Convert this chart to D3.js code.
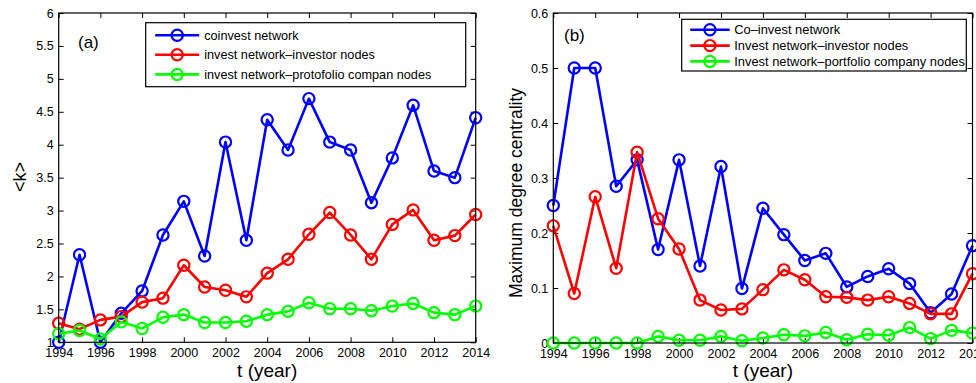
<!DOCTYPE html>
<html>
<head>
<meta charset="utf-8">
<script src="https://cdn.jsdelivr.net/npm/d3@7/dist/d3.min.js"></script>
<style>
  html, body { margin: 0; padding: 0; background: #fff; }
  svg { display: block; font-family: "Liberation Sans", Arial, Helvetica, sans-serif; }
</style>
</head>
<body>
<svg id="chart" width="976" height="383"></svg>
<script>
// Years shared by both panels
const years = d3.range(1994, 2015);

// Panel (a): average degree <k>
const coinvestK = [1.00, 2.33, 1.00, 1.44, 1.78, 2.63, 3.14, 2.31, 4.04, 2.55, 4.38, 3.92, 4.70, 4.04, 3.92, 3.12, 3.80, 4.60, 3.60, 3.50, 4.41];
const investorK = [1.29, 1.20, 1.34, 1.39, 1.61, 1.67, 2.17, 1.84, 1.79, 1.69, 2.05, 2.26, 2.64, 2.97, 2.63, 2.26, 2.79, 3.01, 2.55, 2.62, 2.94];
const portfolioK = [1.13, 1.18, 1.05, 1.31, 1.21, 1.38, 1.42, 1.30, 1.30, 1.32, 1.42, 1.47, 1.60, 1.51, 1.51, 1.48, 1.55, 1.59, 1.45, 1.42, 1.55];

// Panel (b): maximum degree centrality
const coinvestC = [0.250, 0.500, 0.500, 0.285, 0.333, 0.170, 0.333, 0.140, 0.321, 0.099, 0.245, 0.197, 0.150, 0.163, 0.102, 0.121, 0.135, 0.108, 0.055, 0.089, 0.177];
const investorC = [0.213, 0.090, 0.266, 0.136, 0.347, 0.226, 0.171, 0.078, 0.060, 0.062, 0.097, 0.133, 0.115, 0.084, 0.083, 0.078, 0.084, 0.072, 0.053, 0.053, 0.126];
const portfolioC = [0.000, 0.000, 0.000, 0.000, 0.000, 0.012, 0.005, 0.005, 0.012, 0.004, 0.009, 0.015, 0.013, 0.019, 0.006, 0.016, 0.014, 0.028, 0.008, 0.023, 0.018];

// Tick values and labels
const xTicks = d3.range(1994, 2015, 2);
const yTicksA = d3.range(1, 6.01, 0.5);
const yTicksB = [0, 0.1, 0.2, 0.3, 0.4, 0.5, 0.6];

const legendA = ["coinvest network", "invest network\u2013investor nodes", "invest network\u2013protofolio compan nodes"];
const legendB = ["Co\u2013invest network", "Invest network\u2013investor nodes", "Invest network\u2013portfolio company nodes"];
const colors = ["#0000ff", "#ff0000", "#00ff00"];

const svg = d3.select("#chart");

function drawPanel(cfg) {
  const x = d3.scaleLinear().domain([1994, 2014]).range([cfg.left, cfg.right]);
  const y = d3.scaleLinear().domain(cfg.yDomain).range([cfg.bottom, cfg.top]);
  const g = svg.append("g");
  const tickLen = 5;

  // Bottom axis with labels, ticks pointing inward
  g.append("g")
    .attr("transform", `translate(0,${cfg.bottom})`)
    .call(d3.axisBottom(x).tickValues(xTicks).tickFormat(d3.format("d")).tickSize(-tickLen).tickPadding(6))
    .call(a => a.select(".domain").remove())
    .call(a => a.selectAll("line").attr("stroke", "#000"))
    .call(a => a.selectAll("text").attr("font-size", 12.5).attr("fill", "#000"));
  // Top ticks
  g.append("g")
    .attr("transform", `translate(0,${cfg.top})`)
    .call(d3.axisTop(x).tickValues(xTicks).tickSize(-tickLen).tickFormat(""))
    .call(a => a.select(".domain").remove())
    .call(a => a.selectAll("line").attr("stroke", "#000"));
  // Left axis with labels
  g.append("g")
    .attr("transform", `translate(${cfg.left},0)`)
    .call(d3.axisLeft(y).tickValues(cfg.yTicks).tickFormat(cfg.yFormat).tickSize(-tickLen).tickPadding(5))
    .call(a => a.select(".domain").remove())
    .call(a => a.selectAll("line").attr("stroke", "#000"))
    .call(a => a.selectAll("text").attr("font-size", 12.5).attr("fill", "#000"));
  // Right ticks
  g.append("g")
    .attr("transform", `translate(${cfg.right},0)`)
    .call(d3.axisRight(y).tickValues(cfg.yTicks).tickSize(-tickLen).tickFormat(""))
    .call(a => a.select(".domain").remove())
    .call(a => a.selectAll("line").attr("stroke", "#000"));

  // Series lines and circle markers
  const line = d3.line().x((d, i) => x(years[i])).y(d => y(d));
  cfg.series.forEach((vals, s) => {
    g.append("path")
      .attr("d", line(vals))
      .attr("fill", "none")
      .attr("stroke", colors[s])
      .attr("stroke-width", 2.6)
      .attr("stroke-linejoin", "round");
    g.selectAll(null)
      .data(vals)
      .enter().append("circle")
      .attr("cx", (d, i) => x(years[i]))
      .attr("cy", d => y(d))
      .attr("r", 5.6)
      .attr("fill", "none")
      .attr("stroke", colors[s])
      .attr("stroke-width", 2.2);
  });

  // Box
  g.append("rect")
    .attr("x", cfg.left).attr("y", cfg.top)
    .attr("width", cfg.right - cfg.left).attr("height", cfg.bottom - cfg.top)
    .attr("fill", "none").attr("stroke", "#000").attr("stroke-width", 1.2);

  // Panel tag
  g.append("text")
    .attr("x", cfg.tag.x).attr("y", cfg.tag.y)
    .attr("font-size", 17).attr("fill", "#000")
    .text(cfg.tag.text);

  // Axis titles
  g.append("text")
    .attr("x", (cfg.left + cfg.right) / 2 + cfg.xTitleShift)
    .attr("y", 377)
    .attr("text-anchor", "middle")
    .attr("font-size", 19).attr("fill", "#000")
    .text("t (year)");
  g.append("text")
    .attr("transform", `translate(${cfg.yTitle.x},${cfg.yTitle.y}) rotate(-90)`)
    .attr("text-anchor", "middle")
    .attr("font-size", cfg.yTitle.size).attr("fill", "#000")
    .text(cfg.yTitle.text);

  // Legend
  const L = cfg.legend;
  const lg = g.append("g");
  lg.append("rect")
    .attr("x", L.x).attr("y", L.y).attr("width", L.w).attr("height", L.h)
    .attr("fill", "#fff").attr("stroke", "#000").attr("stroke-width", 1.2);
  L.labels.forEach((t, i) => {
    const ry = L.y + L.first + i * L.step;
    lg.append("line")
      .attr("x1", L.x + L.lineStart).attr("x2", L.x + L.lineEnd)
      .attr("y1", ry).attr("y2", ry)
      .attr("stroke", colors[i]).attr("stroke-width", 2.6);
    lg.append("circle")
      .attr("cx", L.x + (L.lineStart + L.lineEnd) / 2).attr("cy", ry)
      .attr("r", 5.6).attr("fill", "none")
      .attr("stroke", colors[i]).attr("stroke-width", 2.2);
    lg.append("text")
      .attr("x", L.x + L.textX).attr("y", ry)
      .attr("dy", "0.35em")
      .attr("font-size", L.fontSize).attr("fill", "#000")
      .text(t);
  });
}

drawPanel({
  left: 58.7, right: 475.7, top: 13, bottom: 342.3,
  yDomain: [1, 6], yTicks: yTicksA, yFormat: d3.format("~g"),
  series: [coinvestK, investorK, portfolioK],
  tag: { x: 78, y: 48, text: "(a)" },
  xTitleShift: 0,
  yTitle: { x: 26, y: 177, size: 18, text: "<k>" },
  legend: { x: 145.7, y: 22.7, w: 320, h: 64, first: 12.5, step: 19.6,
            lineStart: 9.5, lineEnd: 53.5, textX: 58.5, fontSize: 12.7, labels: legendA }
});

drawPanel({
  left: 553.3, right: 972.5, top: 13, bottom: 343,
  yDomain: [0, 0.6], yTicks: yTicksB, yFormat: d => d === 0 ? "0" : d3.format(".1f")(d),
  series: [coinvestC, investorC, portfolioC],
  tag: { x: 564, y: 41, text: "(b)" },
  xTitleShift: 0,
  yTitle: { x: 522, y: 193, size: 17.5, text: "Maximum degree centrality" },
  legend: { x: 681.7, y: 19.3, w: 284.6, h: 51.7, first: 10.5, step: 15.8,
            lineStart: 8.5, lineEnd: 48, textX: 52.5, fontSize: 12.9, labels: legendB }
});
</script>
</body>
</html>
